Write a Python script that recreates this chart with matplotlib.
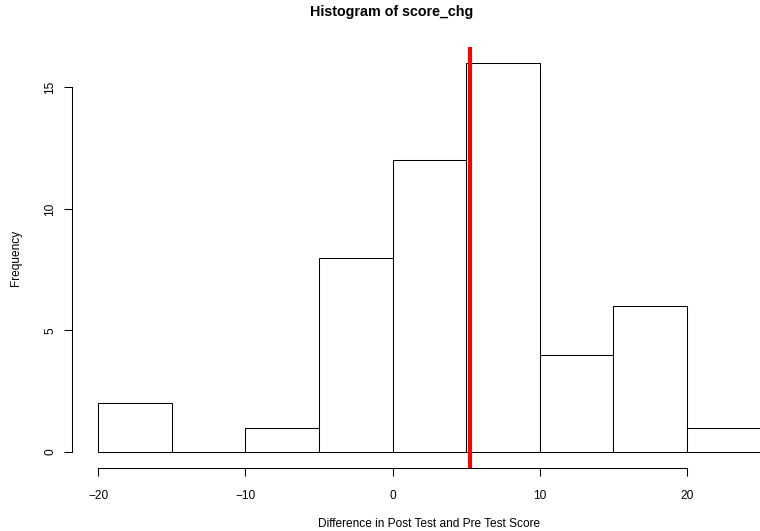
import numpy as np
import matplotlib
matplotlib.use("Agg")
import matplotlib.pyplot as plt

plt.rcParams['font.family'] = ['Liberation Sans', 'DejaVu Sans']

# histogram of score changes (post - pre)
bin_edges = [-20, -15, -10, -5, 0, 5, 10, 15, 20, 25]
counts = [2, 0, 1, 8, 12, 16, 4, 6, 1]
mean_chg = 5.26

x_ticks = [-20, -10, 0, 10, 20]
y_ticks = [0, 5, 10, 15]

fig = plt.figure(figsize=(7.6, 5.31), dpi=100)
# R-style plot region: usr extends 4% past the data range
x_lo, x_hi = -21.8, 26.8
y_lo, y_hi = -0.64, 16.64
px_per_x = 589 / 40.0
left = 71.5 / 760
width = (x_hi - x_lo) * px_per_x / 760
ax = fig.add_axes([left, 0.1194, width, 0.9107 - 0.1194])

edges = np.array(bin_edges, dtype=float)
ax.bar(edges[:-1], counts, width=np.diff(edges), align='edge',
       facecolor='white', edgecolor='black', linewidth=0.75)
ax.axvline(mean_chg, color='#ff0000', lw=2.9)

ax.set_xlim(x_lo, x_hi)
ax.set_ylim(y_lo, y_hi)

for side in ('top', 'right'):
    ax.spines[side].set_visible(False)
ax.spines['bottom'].set_bounds(-20, 20)
ax.spines['left'].set_bounds(0, 15)
for sp in ('bottom', 'left'):
    ax.spines[sp].set_linewidth(0.75)

ax.set_xticks(x_ticks)
ax.set_xticklabels(['\u221220', '\u221210', '0', '10', '20'])
ax.set_yticks(y_ticks)
ax.set_yticklabels([str(v) for v in y_ticks], rotation=90, va='center')
ax.tick_params(axis='both', length=6, width=0.75, labelsize=8.6)
ax.tick_params(axis='x', pad=10)
ax.tick_params(axis='y', pad=5)

ax.set_xlabel("Difference in Post Test and Pre Test Score", fontsize=8.6, labelpad=12)
ax.set_ylabel("Frequency", fontsize=8.6, labelpad=16)
fig.text(392 / 760, 1 - 12 / 531, "Histogram of score_chg",
         ha='center', va='center', fontsize=10.3, fontweight='bold')

fig.savefig("out.png", dpi=100)
